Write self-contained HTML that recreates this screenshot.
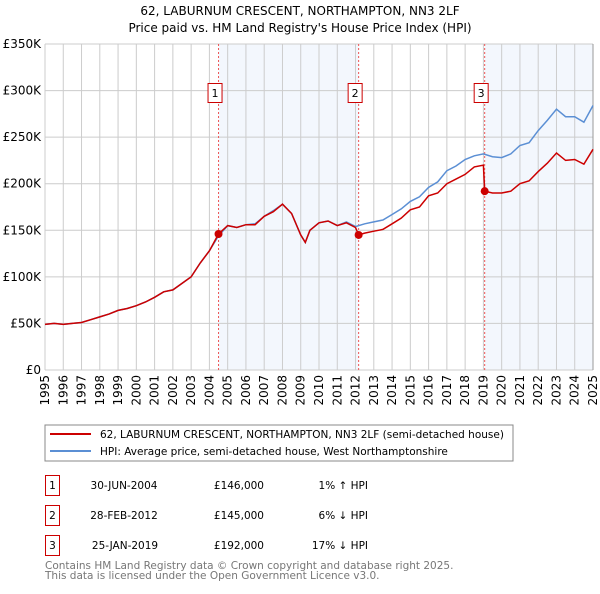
<!DOCTYPE html>
<html><head><meta charset="utf-8"><style>
body{margin:0;background:#fff;font-family:"DejaVu Sans","Liberation Sans",sans-serif;}
svg text{font-family:"DejaVu Sans","Liberation Sans",sans-serif;}
</style></head><body>
<svg id="c" width="600" height="590" xmlns="http://www.w3.org/2000/svg">
<text x="300" y="15" font-size="12" text-anchor="middle">62, LABURNUM CRESCENT, NORTHAMPTON, NN3 2LF</text>
<text x="300" y="32" font-size="12" text-anchor="middle">Price paid vs. HM Land Registry's House Price Index (HPI)</text>
<g id="plot"></g>
<rect x="45" y="425" width="468" height="36" fill="#fff" stroke="#888"/>
<line x1="50" y1="434" x2="91" y2="434" stroke="#cc0000" stroke-width="2"/>
<text x="100" y="438" font-size="10.5">62, LABURNUM CRESCENT, NORTHAMPTON, NN3 2LF (semi-detached house)</text>
<line x1="50" y1="451" x2="91" y2="451" stroke="#5b8fd4" stroke-width="2"/>
<text x="100" y="455" font-size="10.5">HPI: Average price, semi-detached house, West Northamptonshire</text>
<g font-size="10.5">
<rect x="45.5" y="475.5" width="14" height="20" fill="#fff" stroke="#c00"/><text x="52.5" y="489" text-anchor="middle">1</text>
<text x="124" y="489" text-anchor="middle">30-JUN-2004</text>
<text x="264" y="489" text-anchor="end">£146,000</text>
<text x="368" y="489" text-anchor="end">1% ↑ HPI</text>
<rect x="45.5" y="505.5" width="14" height="20" fill="#fff" stroke="#c00"/><text x="52.5" y="519" text-anchor="middle">2</text>
<text x="124" y="519" text-anchor="middle">28-FEB-2012</text>
<text x="264" y="519" text-anchor="end">£145,000</text>
<text x="368" y="519" text-anchor="end">6% ↓ HPI</text>
<rect x="45.5" y="535.5" width="14" height="20" fill="#fff" stroke="#c00"/><text x="52.5" y="549" text-anchor="middle">3</text>
<text x="125" y="549" text-anchor="middle">25-JAN-2019</text>
<text x="264" y="549" text-anchor="end">£192,000</text>
<text x="368" y="549" text-anchor="end">17% ↓ HPI</text>
</g>
<text x="45" y="569" font-size="10.5" fill="#777">Contains HM Land Registry data © Crown copyright and database right 2025.</text>
<text x="45" y="579" font-size="10.5" fill="#777">This data is licensed under the Open Government Licence v3.0.</text>
</svg>
<script>
const hpiTimes=[1995,1995.5,1996,1996.5,1997,1997.5,1998,1998.5,1999,1999.5,2000,2000.5,2001,2001.5,2002,2002.5,2003,2003.5,2004,2004.5,2005,2005.5,2006,2006.5,2007,2007.5,2008,2008.5,2009,2009.25,2009.5,2010,2010.5,2011,2011.5,2012,2012.5,2013,2013.5,2014,2014.5,2015,2015.5,2016,2016.5,2017,2017.5,2018,2018.5,2019,2019.5,2020,2020.5,2021,2021.5,2022,2022.5,2023,2023.5,2024,2024.5,2025];
const hpiValues=[49,50,49,50,51,54,57,60,64,66,69,73,78,84,86,93,100,115,128,144,155,153,156,157,165,171,178,168,145,137,150,158,160,155,159,154,157,159,161,167,173,181,186,196,202,214,219,226,230,232,229,228,232,241,244,257,268,280,272,272,266,284];
const paidTimes=[1995,1995.5,1996,1996.5,1997,1997.5,1998,1998.5,1999,1999.5,2000,2000.5,2001,2001.5,2002,2002.5,2003,2003.5,2004,2004.5,2005,2005.5,2006,2006.5,2007,2007.5,2008,2008.5,2009,2009.25,2009.5,2010,2010.5,2011,2011.5,2012,2012.17,2012.5,2013,2013.5,2014,2014.5,2015,2015.5,2016,2016.5,2017,2017.5,2018,2018.5,2019,2019.07,2019.5,2020,2020.5,2021,2021.5,2022,2022.5,2023,2023.5,2024,2024.5,2025];
const paidValues=[49,50,49,50,51,54,57,60,64,66,69,73,78,84,86,93,100,115,128,146,155,153,156,156,165,170,178,168,145,137,150,158,160,155,158,153,145,147,149,151,157,163,172,175,187,190,200,205,210,218,220,192,190,190,192,200,203,213,222,233,225,226,221,237];
const saleTimes=[2004.5,2012.17,2019.07];
const saleValues=[146,145,192];
const saleLabels=["1","2","3"];
const yTicks=[0,50,100,150,200,250,300,350];
const yTickLabels=["£0","£50K","£100K","£150K","£200K","£250K","£300K","£350K"];
const xTicks=[1995,1996,1997,1998,1999,2000,2001,2002,2003,2004,2005,2006,2007,2008,2009,2010,2011,2012,2013,2014,2015,2016,2017,2018,2019,2020,2021,2022,2023,2024,2025];

const X0=45,X1=593,Y0=370,Y1=44;
const xs=t=>X0+(t-1995)/30*(X1-X0);
const ys=v=>Y0-v/350*(Y0-Y1);
const NS="http://www.w3.org/2000/svg";
const g=document.getElementById('plot');
function mk(tag,attrs){const e=document.createElementNS(NS,tag);for(const k in attrs)e.setAttribute(k,attrs[k]);g.appendChild(e);return e;}
let e=mk('rect',{x:xs(saleTimes[0]),y:Y1,width:xs(saleTimes[1])-xs(saleTimes[0]),height:Y0-Y1,fill:'#eef3fc',opacity:0.7});


e=mk('rect',{x:xs(saleTimes[2]),y:Y1,width:X1-xs(saleTimes[2]),height:Y0-Y1,fill:'#eef3fc',opacity:0.7});


yTicks.forEach((v,i)=>{
 let l=mk('line',{x1:X0,x2:X1,y1:ys(v),y2:ys(v),stroke:'#ccc'});
 
 
 let t=mk('text',{x:X0-4,y:ys(v)+4,'font-size':12,'text-anchor':'end'});
 t.textContent=yTickLabels[i];
 
 
});
xTicks.forEach(y=>{
 let l=mk('line',{x1:xs(y),x2:xs(y),y1:Y1,y2:Y0,stroke:'#ccc'});
 
 
 let t=mk('text',{x:0,y:0,'font-size':12,'text-anchor':'end',transform:`translate(${xs(y)+4},${Y0+5}) rotate(-90)`});
 t.textContent=y;
 
 
});
e=mk('line',{x1:X1,x2:X1,y1:Y1,y2:Y0,stroke:'#999'});


saleTimes.forEach((t,i)=>{
 let l=mk('line',{x1:xs(t),x2:xs(t),y1:Y1,y2:Y0,stroke:'#e55','stroke-dasharray':'2,2'});
 
 
});
function path(T,V){return T.map((t,i)=>(i?'L':'M')+xs(t).toFixed(1)+','+ys(V[i]).toFixed(1)).join('');}
e=mk('path',{d:path(hpiTimes,hpiValues),fill:'none',stroke:'#5b8fd4','stroke-width':1.5});


e=mk('path',{d:path(paidTimes,paidValues),fill:'none',stroke:'#cc0000','stroke-width':1.5});


saleTimes.forEach((t,i)=>{
 let c=mk('circle',{cx:xs(t),cy:ys(saleValues[i]),r:4,fill:'#cc0000'});
 
 
 let r=mk('rect',{x:xs(t)-10.5,y:83.5,width:14,height:19,fill:'#fff',stroke:'#c00'});
 
 
 let tx=mk('text',{x:xs(t)-3.5,y:97,'font-size':11,'text-anchor':'middle'});
 tx.textContent=saleLabels[i];
 
 
});
</script>
</body></html>
